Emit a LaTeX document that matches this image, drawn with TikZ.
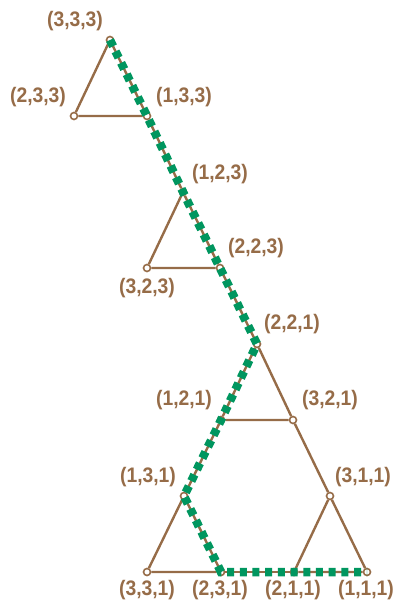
\documentclass[tikz,border=0pt]{standalone}
\usepackage{fontspec}
\setmainfont{Liberation Sans}
\newfontfamily\lblfont[FakeStretch=0.92]{Liberation Sans}
\definecolor{brn}{RGB}{150,108,72}
\definecolor{grn}{RGB}{0,150,95}
\begin{document}
\begin{tikzpicture}[x=1pt,y=-1pt,
  vtx/.style={circle,draw=brn,line width=1.6pt,fill=white,inner sep=0pt,minimum size=7pt},
  lbl/.style={text=brn,font=\lblfont\fontsize{21}{21}\selectfont\bfseries,inner sep=0pt},
  edge/.style={draw=brn,line width=2.4pt},
  path/.style={draw=grn,line width=8.5pt,dash pattern=on 7pt off 5.7pt}]
\useasboundingbox (0,0) rectangle (396,604);
\node[vtx] (a333) at (110,40) {};
\node[vtx] (a233) at (74,116) {};
\node[vtx] (a133) at (147,116) {};
\node[vtx] (a123) at (183,192) {};
\node[vtx] (a323) at (147,268) {};
\node[vtx] (a223) at (220,268) {};
\node[vtx] (a221) at (257,344) {};
\node[vtx] (a121) at (221,420) {};
\node[vtx] (a321) at (293,420) {};
\node[vtx] (a131) at (184,496) {};
\node[vtx] (a311) at (330,496) {};
\node[vtx] (a331) at (147,572) {};
\node[vtx] (a231) at (221,572) {};
\node[vtx] (a211) at (294,572) {};
\node[vtx] (a111) at (367,572) {};
\node[lbl] (l333) at (75,21) {(3,3,3)};
\node[lbl] (l233) at (38,97) {(2,3,3)};
\node[lbl] (l133) at (184,97) {(1,3,3)};
\node[lbl] (l123) at (220,174) {(1,2,3)};
\node[lbl] (l323) at (147,288) {(3,2,3)};
\node[lbl] (l223) at (256,248) {(2,2,3)};
\node[lbl] (l221) at (292,324) {(2,2,1)};
\node[lbl] (l121) at (184,400) {(1,2,1)};
\node[lbl] (l321) at (330,400) {(3,2,1)};
\node[lbl] (l131) at (148,477) {(1,3,1)};
\node[lbl] (l311) at (363,477) {(3,1,1)};
\node[lbl] (l331) at (147,590) {(3,3,1)};
\node[lbl] (l231) at (220,590) {(2,3,1)};
\node[lbl] (l211) at (293,590) {(2,1,1)};
\node[lbl] (l111) at (366,590) {(1,1,1)};
\draw[edge] (a333) -- (a233) -- (a133) -- (a333);
\draw[edge] (a133) -- (a123);
\draw[edge] (a123) -- (a323) -- (a223) -- (a123);
\draw[edge] (a223) -- (a221);
\draw[edge] (a221) -- (a121) -- (a321) -- (a221);
\draw[edge] (a121) -- (a131);
\draw[edge] (a321) -- (a311);
\draw[edge] (a131) -- (a331) -- (a231) -- (a131);
\draw[edge] (a311) -- (a211) -- (a111) -- (a311);
\draw[edge] (a231) -- (a211);
\draw[path] (a333.center) -- (a133.center) -- (a123.center) -- (a223.center) -- (a221.center) -- (a121.center) -- (a131.center) -- (a231.center) -- (a211.center) -- (a111.center);
\end{tikzpicture}
\end{document}
